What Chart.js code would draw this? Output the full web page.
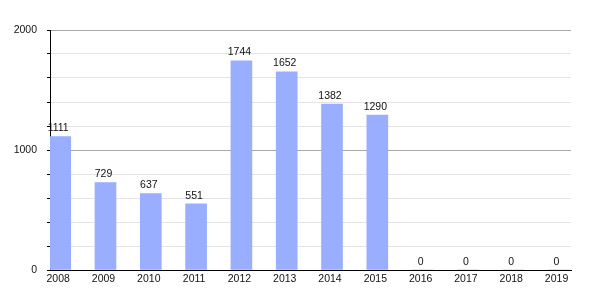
<!DOCTYPE html>
<html>
<head>
<meta charset="utf-8">
<script src="https://cdn.jsdelivr.net/npm/chart.js@4/dist/chart.umd.min.js"></script>
<style>
html,body{margin:0;padding:0;background:#fff;}
#wrap{width:600px;height:300px;}
</style>
</head>
<body>
<div id="wrap"><canvas id="c" width="600" height="300"></canvas></div>
<script>
const years = [2008, 2009, 2010, 2011, 2012, 2013, 2014, 2015, 2016, 2017, 2018, 2019];
const values = [1111, 729, 637, 551, 1744, 1652, 1382, 1290, 0, 0, 0, 0];
const yTickLabels = [0, 1000, 2000];

const FONT = {family: '"Liberation Sans", Arial, Helvetica, sans-serif', size: 10.5};

const valueLabels = {
  id: 'valueLabels',
  afterDatasetsDraw(chart) {
    const ctx = chart.ctx;
    const meta = chart.getDatasetMeta(0);
    ctx.save();
    ctx.font = FONT.size + 'px ' + FONT.family;
    ctx.fillStyle = '#111';
    ctx.textAlign = 'center';
    ctx.textBaseline = 'bottom';
    meta.data.forEach((bar, i) => {
      ctx.fillText(String(values[i]), bar.x - 2, bar.y - 3);
    });
    ctx.restore();
  }
};

new Chart(document.getElementById('c'), {
  type: 'bar',
  data: {
    datasets: [{
      data: years.map((y, i) => ({x: y, y: values[i]})),
      backgroundColor: '#9aaeff',
      borderWidth: 0,
      barThickness: 21
    }]
  },
  options: {
    responsive: false,
    animation: false,
    layout: {padding: {top: 30, right: 29, left: 0, bottom: 0}},
    plugins: {legend: {display: false}, tooltip: {enabled: false}},
    scales: {
      x: {
        type: 'linear',
        offset: false,
        min: 2007.775,
        max: 2019.275,
        grid: {display: false, drawTicks: false},
        border: {display: true, color: '#000', width: 1},
        afterBuildTicks(scale) {
          scale.ticks = years.map(v => ({value: v}));
        },
        afterFit(scale) { scale.height = 30; },
        ticks: {
          color: '#111',
          font: FONT,
          padding: 3,
          labelOffset: -2,
          maxRotation: 0,
          autoSkip: false,
          callback: v => String(v)
        }
      },
      y: {
        min: 0,
        max: 2000,
        afterBuildTicks(scale) {
          const t = [];
          for (let v = 0; v <= 2000; v += 200) t.push({value: v});
          scale.ticks = t;
        },
        afterFit(scale) { scale.width = 50; },
        border: {display: true, color: '#000', width: 1},
        grid: {
          color: ctx => (ctx.tick && ctx.tick.value % 1000 === 0) ? '#a8a8a8' : '#e4e4e4',
          tickColor: '#000',
          tickLength: 3,
          drawTicks: true
        },
        ticks: {
          color: '#111',
          font: FONT,
          padding: 10,
          autoSkip: false,
          callback: v => yTickLabels.includes(v) ? String(v) : ''
        }
      }
    }
  },
  plugins: [valueLabels]
});
</script>
</body>
</html>
